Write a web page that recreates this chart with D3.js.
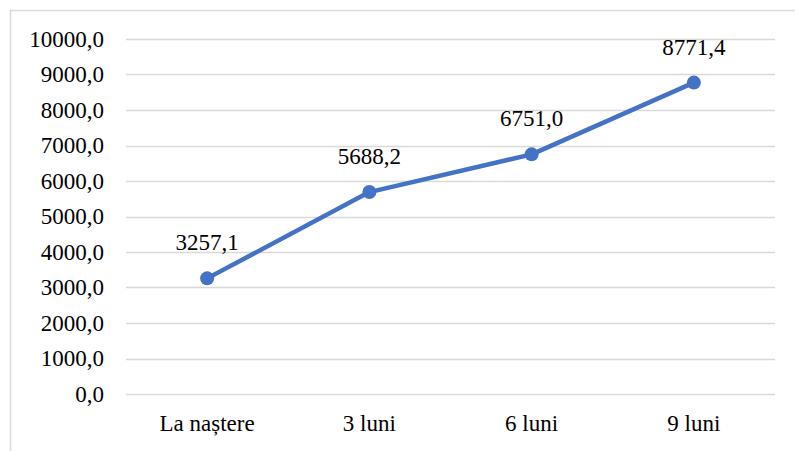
<!DOCTYPE html>
<html>
<head>
<meta charset="utf-8">
<script src="https://cdn.jsdelivr.net/npm/d3@7"></script>
<style>
  body { margin: 0; background: #fff; }
</style>
</head>
<body>
<script>
// chart data
var categories = ["La naștere", "3 luni", "6 luni", "9 luni"];
var values = [3257.1, 5688.2, 6751.0, 8771.4];
var yTicks = [0, 1000, 2000, 3000, 4000, 5000, 6000, 7000, 8000, 9000, 10000];

var FONT = "Liberation Serif";
var W = 795, H = 451;
var margin = { top: 39, right: 20, bottom: 57, left: 126 },
    width = 775 - margin.left,
    height = 394 - margin.top;

var svg = d3.select("body").append("svg")
    .attr("width", W)
    .attr("height", H)
    .style("font-family", FONT);

// outer chart border
svg.append("rect")
    .attr("x", 10.5).attr("y", 10.5)
    .attr("width", W).attr("height", H)
    .attr("fill", "none")
    .attr("stroke", "#d9d9d9")
    .attr("stroke-width", 1.5);

var g = svg.append("g")
    .attr("transform", "translate(" + margin.left + "," + margin.top + ")");

var x = d3.scaleBand().domain(categories).range([0, width]);
var y = d3.scaleLinear().domain([0, 10000]).range([height, 0]);
var fmt = function(v) { return d3.format(".1f")(v).replace(".", ","); };

// gridlines
g.selectAll("line.grid")
    .data(yTicks)
    .enter().append("line")
    .attr("class", "grid")
    .attr("x1", 0).attr("x2", width)
    .attr("y1", function(d) { return Math.round(y(d)) + 0.5; })
    .attr("y2", function(d) { return Math.round(y(d)) + 0.5; })
    .attr("stroke", "#d9d9d9")
    .attr("stroke-width", 1.5);

// y axis labels
var yAxis = g.append("g")
    .call(d3.axisLeft(y).tickValues(yTicks).tickFormat(fmt).tickSize(0).tickPadding(22));
yAxis.select(".domain").remove();
yAxis.attr("font-family", null).attr("font-size", null);
yAxis.selectAll("text").style("font-size", "23px").style("font-family", FONT).attr("fill", "#000");

// x axis labels
var xAxis = g.append("g")
    .attr("transform", "translate(0," + height + ")")
    .call(d3.axisBottom(x).tickSize(0).tickPadding(21));
xAxis.select(".domain").remove();
xAxis.attr("font-family", null).attr("font-size", null);
xAxis.selectAll("text").style("font-size", "23px").style("font-family", FONT).attr("fill", "#000");

var cx = function(d, i) { return x(categories[i]) + x.bandwidth() / 2; };

var line = d3.line()
    .x(function(d, i) { return cx(d, i); })
    .y(function(d) { return y(d); });

g.append("path")
    .datum(values)
    .attr("fill", "none")
    .attr("stroke", "#4472c4")
    .attr("stroke-width", 4.5)
    .attr("stroke-linejoin", "round")
    .attr("stroke-linecap", "round")
    .attr("d", line);

g.selectAll("circle")
    .data(values)
    .enter().append("circle")
    .attr("cx", cx)
    .attr("cy", function(d) { return y(d); })
    .attr("r", 7)
    .attr("fill", "#4472c4");

g.selectAll("text.lbl")
    .data(values)
    .enter().append("text")
    .attr("class", "lbl")
    .attr("x", cx)
    .attr("y", function(d) { return y(d) - 28; })
    .attr("text-anchor", "middle")
    .style("font-size", "23px")
    .style("font-family", FONT)
    .text(fmt);
</script>
</body>
</html>
